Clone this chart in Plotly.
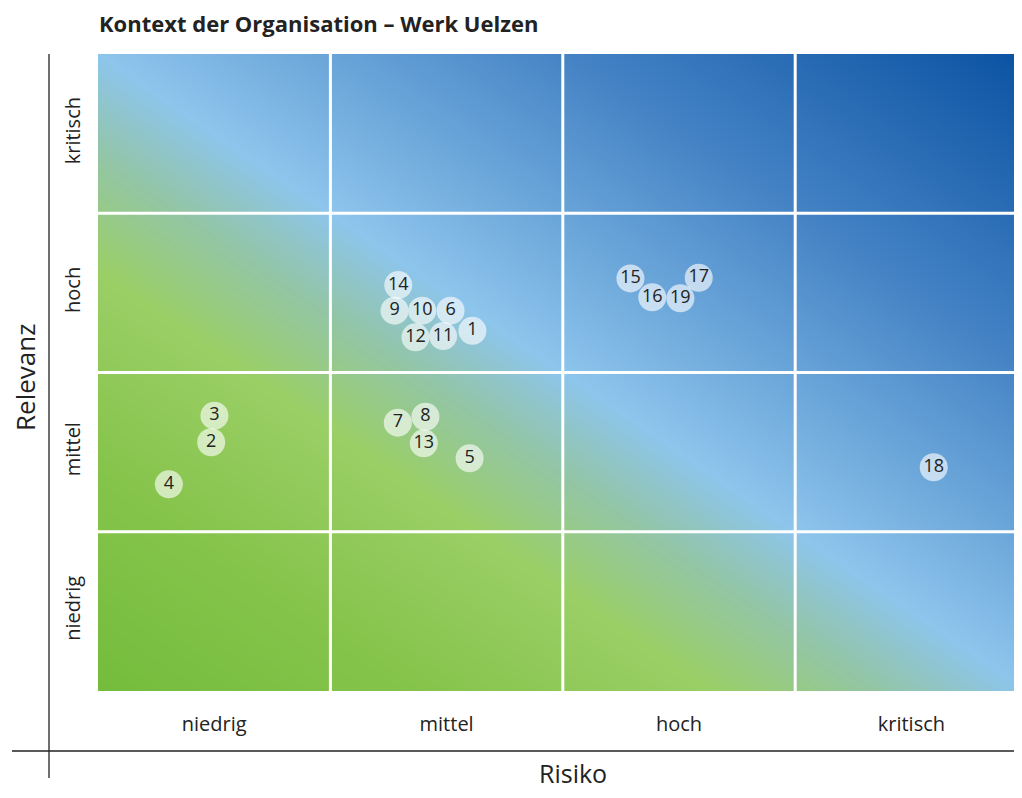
import numpy as np
import plotly.graph_objects as go

# ---- data ----
title_text = "Kontext der Organisation – Werk Uelzen"
levels = ["niedrig", "mittel", "hoch", "kritisch"]
x_title = "Risiko"
y_title = "Relevanz"

ids = [str(i) for i in range(1, 20)]
risk = [1.611, 0.487, 0.501, 0.305, 1.599, 1.517, 1.290, 1.409, 1.276, 1.395,
        1.485, 1.366, 1.402, 1.292, 2.291, 2.385, 2.585, 3.596, 2.506]
relevance = [2.262, 1.562, 1.729, 1.298, 1.461, 2.388, 1.685, 1.722, 2.388, 2.388,
             2.229, 2.221, 1.555, 2.549, 2.591, 2.472, 2.595, 1.405, 2.466]

FONT = "Open Sans"
OFF = 8  # page body margin
W, H = 1014, 782
ML, MT = 90, 46
pw = W - ML
ph = 637
MR = 0
MB = H - MT - ph
x_max = pw / 232.4


def px(sx):
    return (sx - OFF - ML) / pw


def py(sy):
    return (H - MB - (sy - OFF)) / ph


fig = go.Figure()

# background gradient (decoration)
g = np.linspace(0, 4, 81)
GX, GY = np.meshgrid(g, g)
Z = (GX + GY) / 8.0
fig.add_trace(go.Heatmap(
    x=g, y=g, z=Z, zmin=0, zmax=1, zsmooth="best", showscale=False, hoverinfo="skip",
    colorscale=[[0, "#74bc3c"], [0.18, "#86c44c"], [0.33, "#9acf66"], [0.42, "#93c5a5"],
                [0.5, "#8dc5ec"], [0.75, "#4583c5"], [1, "#0a52a2"]]))

fig.add_trace(go.Scatter(
    x=risk, y=relevance, mode="markers+text", text=ids,
    textposition="middle center",
    textfont=dict(family=FONT, size=18, color="#222222"),
    marker=dict(size=28, color="rgba(255,255,255,0.62)", line=dict(width=0)),
    hoverinfo="text", showlegend=False))

shapes = []
for k in [1, 2, 3]:
    shapes.append(dict(type="line", xref="x", yref="y", x0=k, x1=k, y0=0, y1=4,
                       line=dict(color="white", width=3), layer="above"))
    shapes.append(dict(type="line", xref="x", yref="y", x0=0, x1=4, y0=k, y1=k,
                       line=dict(color="white", width=3), layer="above"))
# frame lines outside plot
shapes.append(dict(type="line", xref="paper", yref="paper",
                   x0=px(49), x1=px(49), y0=1.0, y1=py(778),
                   line=dict(color="#222", width=1.3)))
shapes.append(dict(type="line", xref="paper", yref="paper",
                   x0=px(12), x1=px(1030), y0=py(751), y1=py(751),
                   line=dict(color="#222", width=1.3)))

annotations = [
    dict(text="<b>" + title_text + "</b>", xref="paper", yref="paper",
         x=px(97), y=py(23), showarrow=False,
         font=dict(family=FONT, size=22, color="#222"),
         xanchor="left", yanchor="middle"),
    dict(text=x_title, xref="paper", yref="paper", x=px(573), y=py(792),
         showarrow=False, font=dict(family=FONT, size=25, color="#222"),
         xanchor="center", yanchor="bottom"),
    dict(text=y_title, xref="paper", yref="paper", x=px(25), y=py(378),
         showarrow=False, textangle=-90, font=dict(family=FONT, size=26, color="#222"),
         xanchor="center", yanchor="middle"),
]

fig.update_layout(
    width=W, height=H,
    margin=dict(l=ML, r=MR, t=MT, b=MB),
    paper_bgcolor="white", plot_bgcolor="white",
    xaxis=dict(range=[0, x_max], tickvals=[0.5, 1.5, 2.5, 3.5], ticktext=levels,
               showgrid=False, zeroline=False, showline=False, ticks="",
               tickfont=dict(family=FONT, size=20, color="#222"), ticklabelstandoff=19,
               fixedrange=True),
    yaxis=dict(range=[0, 4], tickvals=[0.5, 1.5, 2.5, 3.5], ticktext=levels,
               tickangle=-90, showgrid=False, zeroline=False, showline=False, ticks="",
               tickfont=dict(family=FONT, size=20, color="#222"), ticklabelstandoff=13,
               fixedrange=True),
    shapes=shapes, annotations=annotations, showlegend=False,
)

fig.write_html("out.html")
